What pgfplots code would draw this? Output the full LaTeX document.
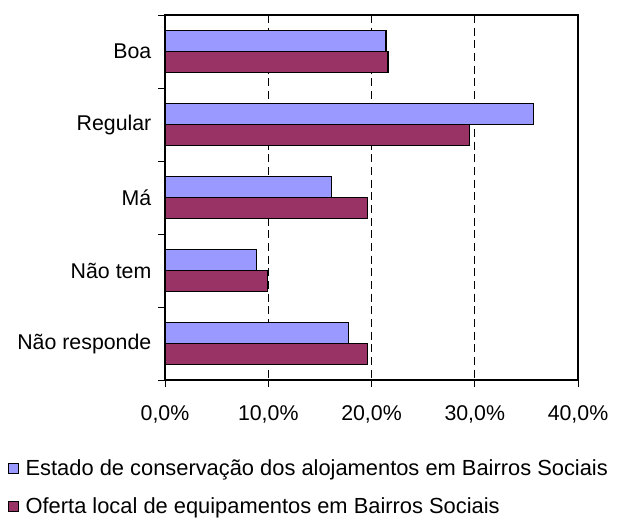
\documentclass[border=0pt]{standalone}
\usepackage{fontspec}
\setmainfont{Liberation Sans}
\usepackage{pgfplots}
\pgfplotsset{compat=1.18}
\definecolor{barblue}{HTML}{9999FF}
\definecolor{barred}{HTML}{993366}

\begin{document}
\begin{tikzpicture}
\useasboundingbox (0,0) rectangle (462.75pt,-389.25pt);
\begin{axis}[
  at={(123.75pt,-285pt)}, anchor=south west,
  scale only axis, width=309.75pt, height=273.75pt,
  xbar, bar width=15.75pt,
  xmin=0, xmax=40, ymin=-0.5, ymax=4.5, y dir=reverse,
  xtick={0,10,...,40}, minor xtick={0,10,...,40},
  ytick={0,...,4}, minor ytick={-0.5,0.5,...,4.5},
  yticklabels={Boa,Regular,Má,Não tem,Não responde},
  xticklabel={\pgfmathprintnumber[fixed,fixed zerofill,precision=1,use comma]{\tick}\%},
  /pgf/number format/assume math mode=true,
  xtick pos=bottom, ytick pos=left, tick align=outside,
  major tick length=0pt, minor tick length=5pt,
  tick style={black, line width=0.75pt},
  axis line style={black, line width=0.9pt},
  xmajorgrids,
  major grid style={black, line width=0.75pt, dash pattern=on 6pt off 3.5pt},
  tick label style={font=\fontsize{16}{19}\selectfont},
  xticklabel style={yshift=-15.5pt},
  yticklabel style={xshift=-6.7pt},
  legend cell align=left,
  legend style={at={(-0.3818,-0.21)}, anchor=north west, draw=none, fill=none,
    inner sep=0pt, row sep=11pt, font=\fontsize{16.4}{19}\selectfont,
    /tikz/every odd column/.append style={column sep=3pt}},
]
\addplot[fill=barblue, draw=black, line width=0.9pt, bar shift=7.875pt,
  legend image code/.code={\draw[fill=barblue,draw=black,line width=0.75pt] (0pt,-3.9pt) rectangle (7.8pt,3.9pt);}]
  coordinates {(21.4,0) (35.7,1) (16.1,2) (8.85,3) (17.8,4)};
\addlegendentry{Estado de conservação dos alojamentos em Bairros Sociais}
\addplot[fill=barred, draw=black, line width=0.9pt, bar shift=-7.875pt,
  legend image code/.code={\draw[fill=barred,draw=black,line width=0.75pt] (0pt,-3.9pt) rectangle (7.8pt,3.9pt);}]
  coordinates {(21.6,0) (29.5,1) (19.6,2) (9.9,3) (19.6,4)};
\addlegendentry{Oferta local de equipamentos em Bairros Sociais}
\end{axis}
\end{tikzpicture}
\end{document}
